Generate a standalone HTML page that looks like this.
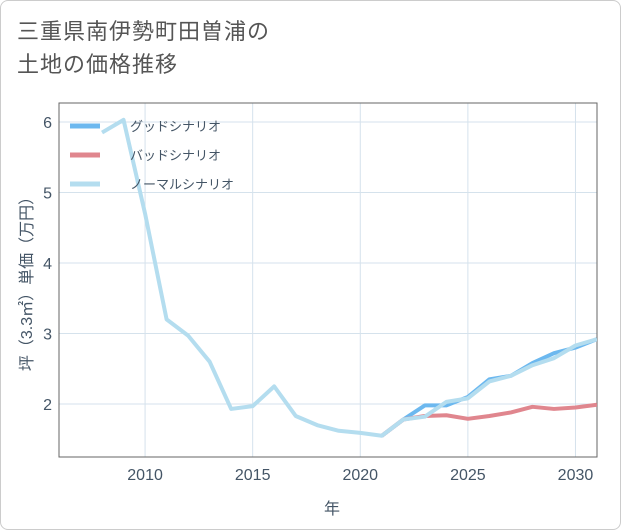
<!DOCTYPE html>
<html><head><meta charset="utf-8"><style>
body{margin:0;background:#fff;}
#wrap{position:relative;width:619px;height:528px;border:1px solid #ccc;border-radius:8px;overflow:hidden;background:#fff;font-family:"Liberation Sans","Noto Sans CJK JP",sans-serif;}
#title{position:absolute;left:16px;top:14px;font-size:22px;line-height:33px;color:#555;letter-spacing:1px;}
svg text{font-family:"Liberation Sans","Noto Sans CJK JP",sans-serif;}
</style></head><body>
<div id="wrap">
<div id="title">三重県南伊勢町田曽浦の<br>土地の価格推移</div>
<svg id="chart" width="621" height="530" style="position:absolute;left:-1px;top:-1px"></svg>
</div>
<script>
const years=[2008,2009,2010,2011,2012,2013,2014,2015,2016,2017,2018,2019,2020,2021,2022,2023,2024,2025,2026,2027,2028,2029,2030,2031];
const normalVals=[5.85,6.03,4.7,3.2,2.97,2.6,1.93,1.97,2.25,1.83,1.7,1.62,1.59,1.55,1.78,1.82,2.03,2.08,2.32,2.4,2.55,2.65,2.83,2.92];
const futureYears=[2021,2022,2023,2024,2025,2026,2027,2028,2029,2030,2031];
const goodVals=[1.55,1.78,1.98,1.98,2.1,2.35,2.4,2.58,2.72,2.8,2.92];
const badVals=[1.55,1.78,1.83,1.84,1.79,1.83,1.88,1.96,1.93,1.95,1.99];
const xTicks=[2010,2015,2020,2025,2030];
const yTicks=[2,3,4,5,6];
const legendLabels=["グッドシナリオ","バッドシナリオ","ノーマルシナリオ"];
const colors=["#6cb8ef","#e0868e","#b4ddef"];

const L=59,R=597,T=103,B=457;
const x=v=>L+(v-2006)*(R-L)/25;
const y=v=>404-(v-2)*70.5;
const svg=document.getElementById('chart');
const NS='http://www.w3.org/2000/svg';
function mk(tag,attrs,parent){const e=document.createElementNS(NS,tag);for(const k in attrs)e.setAttribute(k,attrs[k]);(parent||svg).appendChild(e);return e;}

const clip=mk('clipPath',{id:'pc'});mk('rect',{x:L,y:T,width:R-L,height:B-T},clip);

for(const t of xTicks){const g=mk('line',{x1:x(t),x2:x(t),y1:T,y2:B,stroke:'#d5e2ec','stroke-width':1});


const lb=mk('text',{x:x(t),y:480,'text-anchor':'middle','font-size':16,fill:'#445566'});lb.textContent=t;

}
for(const t of yTicks){const g=mk('line',{x1:L,x2:R,y1:y(t),y2:y(t),stroke:'#d5e2ec','stroke-width':1});


const lb=mk('text',{x:52,y:y(t)+6,'text-anchor':'end','font-size':16,fill:'#445566'});lb.textContent=t;

}
const frame=mk('rect',{x:L,y:T,width:R-L,height:B-T,fill:'none',stroke:'#666','stroke-width':1});



function line(xs,vs,col,name){const p=mk('polyline',{points:xs.map((yr,i)=>x(yr)+','+y(vs[i])).join(' '),fill:'none',stroke:col,'stroke-width':4,'stroke-linejoin':'round','clip-path':'url(#pc)'});

}
line(futureYears,goodVals,colors[0],'good-scenario-line');
line(futureYears,badVals,colors[1],'bad-scenario-line');
line(years,normalVals,colors[2],'normal-scenario-line');

legendLabels.forEach((s,i)=>{const yy=126+i*29;
const ln=mk('line',{x1:70,x2:100,y1:yy,y2:yy,stroke:colors[i],'stroke-width':5});


const t=mk('text',{x:130,y:yy+5,'font-size':13,fill:'#445566'});t.textContent=s;

});

const xt=mk('text',{x:332,y:514,'text-anchor':'middle','font-size':16,fill:'#445566'});xt.textContent='年';


const yt=mk('text',{x:0,y:0,'text-anchor':'middle','font-size':16,fill:'#445566',transform:'translate(32,280) rotate(-90)'});yt.textContent='坪（3.3㎡）単価（万円）';


</script>
</body></html>
